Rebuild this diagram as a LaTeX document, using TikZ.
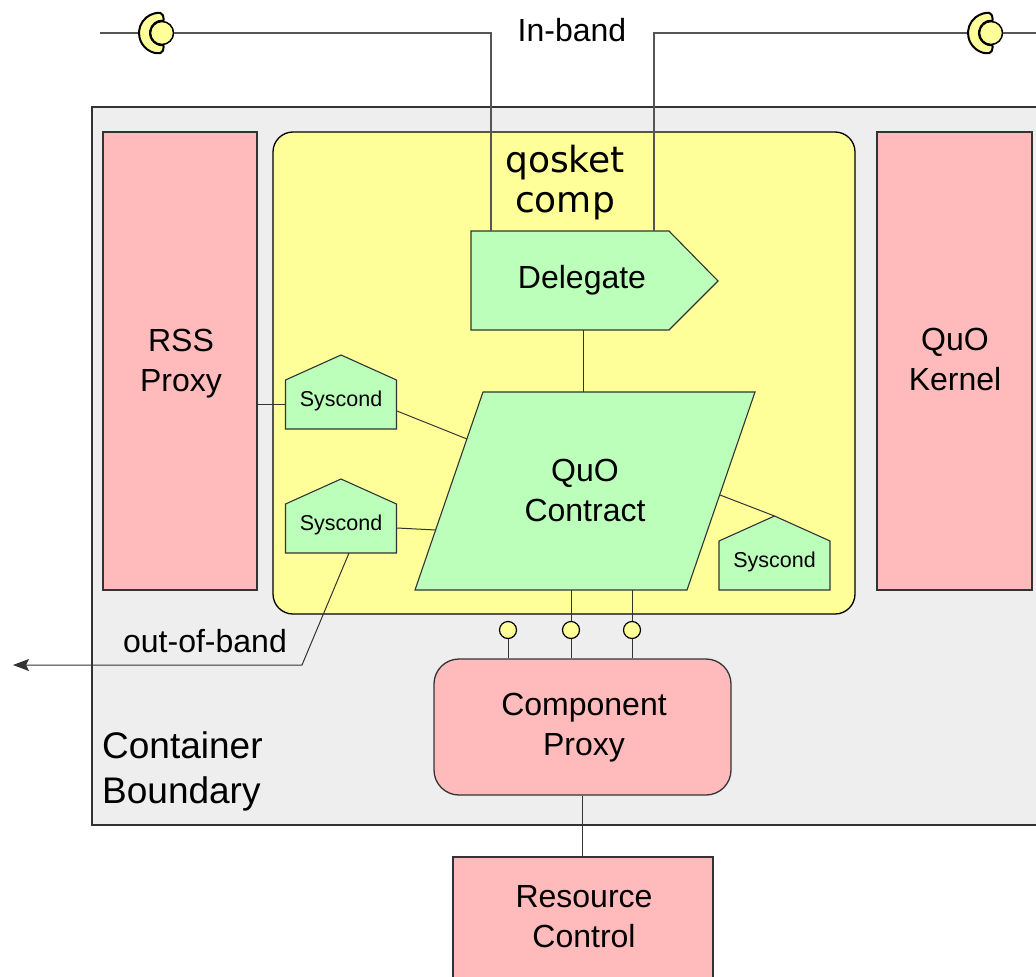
\documentclass[tikz,border=0pt]{standalone}
\usepackage{fontspec}
\setmainfont{Liberation Sans}
\newfontfamily\qfont{DejaVu Sans}
\usetikzlibrary{arrows.meta}
\definecolor{pinkf}{HTML}{FFBBBB}
\definecolor{yel}{HTML}{FFFF99}
\definecolor{grn}{HTML}{BBFFBB}
\definecolor{contf}{HTML}{EEEEEE}
\definecolor{edge}{HTML}{333333}
\definecolor{wire}{HTML}{555555}
\begin{document}
\begin{tikzpicture}[x=1pt,y=-1pt,
  main/.style={font=\fontsize{32}{40}\selectfont, align=center, inner sep=0pt},
  small/.style={font=\fontsize{21.5}{25}\selectfont, inner sep=0pt},
  boxed/.style={draw=edge, line width=1.3pt, inner sep=0pt},
  pinkbox/.style={boxed, fill=pinkf},
  cond/.style={draw=edge, line width=1.1pt, fill=grn, line join=miter},
  conn/.style={draw=edge, line width=1pt},
  wirel/.style={draw=wire, line width=1.2pt},
  ball/.style={circle, draw=black, fill=yel, line width=1.5pt, minimum size=23pt, inner sep=0pt},
  port/.style={circle, draw=black, fill=yel, line width=1.2pt, minimum size=17pt, inner sep=0pt},
  cupstyle/.style={draw=black, fill=yel, line width=2pt, line join=round, rounded corners=2pt},
  syscondpic/.pic={
    \path[cond] (-55.5,0) -- (55.5,0) -- (55.5,-49) -- (0,-74) -- (-55.5,-49) -- cycle;
    \node[small] (-t) at (0,-28.5) {Syscond};
  }]
\useasboundingbox (0,0) rectangle (1036,977);
\clip (0,0) rectangle (1036,977);

% container
\node[boxed, fill=contf, minimum width=1008pt, minimum height=718pt] (cont) at (596,466) {};
\node[font=\fontsize{37}{45}\selectfont, align=left, inner sep=0pt, anchor=west] (contl) at (102,771) {Container\\Boundary};

% side boxes
\node[pinkbox, minimum width=154pt, minimum height=458pt] (rss) at (180,361) {};
\node[main] (rsst) at (181,364) {RSS\\Proxy};
\node[pinkbox, minimum width=155pt, minimum height=458pt] (kern) at (954.5,361) {};
\node[main] (kernt) at (955,359) {QuO\\Kernel};

% qosket
\node[draw=black, line width=1.3pt, fill=yel, rounded corners=20pt, minimum width=582pt, minimum height=482pt] (qos) at (564,373) {};
\node[font=\qfont\fontsize{36}{40}\selectfont, align=center, inner sep=0pt] (qk) at (565,183) {qosket\\comp};

% delegate
\coordinate (d1) at (471,231);
\coordinate (d2) at (669,231);
\coordinate (d3) at (718,281);
\coordinate (d4) at (669,330);
\coordinate (d5) at (471,330);
\path[cond] (d1) -- (d2) -- (d3) -- (d4) -- (d5) -- cycle;
\node[main] (del) at (582,280) {Delegate};
\coordinate (dinL) at (491,231);
\coordinate (dinR) at (654,231);
\coordinate (dbot) at (583,330);

% contract
\coordinate (q1) at (483,392);
\coordinate (q2) at (755,392);
\coordinate (q3) at (687,590);
\coordinate (q4) at (415,590);
\path[cond] (q1) -- (q2) -- (q3) -- (q4) -- cycle;
\node[main] (qc) at (585,490) {QuO\\Contract};
\coordinate (ctop) at (583,392);
\coordinate (cL1) at (467,439);
\coordinate (cL2) at (436,530);
\coordinate (cR) at (720,495);
\coordinate (cb2) at (571,590);
\coordinate (cb3) at (632,590);

% syscond
\pic (s1) at (341,429) {syscondpic};
\pic (s2) at (341,553) {syscondpic};
\pic (s3) at (774.5,590) {syscondpic};
\coordinate (s1L) at (286,404);
\coordinate (s1R) at (397,411);
\coordinate (s2R) at (397,528);
\coordinate (s2B) at (349,553);
\coordinate (s3T) at (774.5,516);

% component proxy & resource control
\node[pinkbox, rounded corners=25pt, minimum width=297pt, minimum height=136pt] (cp) at (582.5,727) {};
\node[main] (cpt) at (584,728) {Component\\Proxy};
\node[pinkbox, minimum width=260pt, minimum height=160pt] (rc) at (583,937) {};
\node[main] (rct) at (584,916.5) {Resource\\Control};

% ports
\node[port] (p1) at (508,630) {};
\node[port] (p2) at (571,630) {};
\node[port] (p3) at (632,630) {};

% connectors
\draw[conn] (dbot) -- (ctop);
\draw[conn] (s1L) -- (s1L -| rss.east);
\draw[conn] (s1R) -- (cL1);
\draw[conn] (s2R) -- (cL2);
\draw[conn] (cR) -- (s3T);
\draw[conn] (cb2) -- (p2.north);
\draw[conn] (cb3) -- (p3.north);
\draw[conn] (p1.south) -- (p1.south |- cp.north);
\draw[conn] (p2.south) -- (p2.south |- cp.north);
\draw[conn] (p3.south) -- (p3.south |- cp.north);
\draw[conn] (cp.south) -- (cp.south |- rc.north);
\coordinate (oobC) at (302,665);
\coordinate (oobE) at (13,665);
\draw[conn, -{Stealth[length=16pt,width=12pt,inset=3pt]}] (s2B) -- (oobC) -- (oobE);
\node[main] (oob) at (205,641) {out-of-band};

% in-band sockets
\coordinate (w0) at (100,33);
\coordinate (c1) at (139,33);
\coordinate (c2) at (968,33);
\coordinate (wend) at (1040,33);
\draw[wirel] (w0) -- (c1);
\draw[cupstyle] ([shift={(80:20)}]159,33) arc[start angle=80,end angle=280,radius=20] -- ([shift={(280:12)}]162,33) arc[start angle=280,end angle=80,radius=12] -- cycle;
\node[ball] (b1) at (162,33) {};
\draw[wirel] (b1.east) -| (dinL);
\draw[wirel] (dinR) |- (c2);
\draw[cupstyle] ([shift={(80:20)}]988,33) arc[start angle=80,end angle=280,radius=20] -- ([shift={(280:12)}]991,33) arc[start angle=280,end angle=80,radius=12] -- cycle;
\node[ball] (b2) at (991,33) {};
\draw[wirel] (b2.east) -- (wend);
\node[main] (inb) at (572,30) {In-band};
\end{tikzpicture}
\end{document}
